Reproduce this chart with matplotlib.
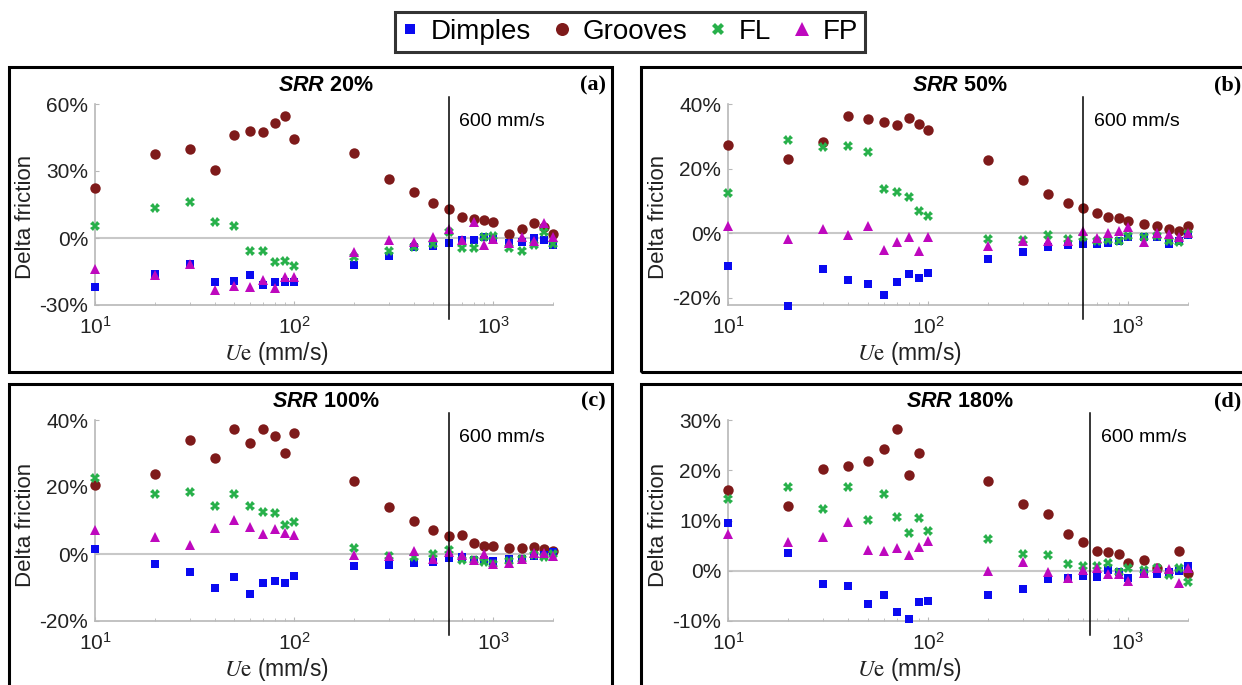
import matplotlib
matplotlib.use("Agg")
import matplotlib.pyplot as plt
import numpy as np
from matplotlib.ticker import FuncFormatter, LogLocator, NullFormatter
from matplotlib.lines import Line2D
from matplotlib.patches import Rectangle

plt.rcParams['font.family'] = ['Liberation Sans', 'DejaVu Sans']
plt.rcParams['mathtext.fontset'] = 'custom'
plt.rcParams['mathtext.rm'] = 'Liberation Sans'
plt.rcParams['mathtext.it'] = 'Liberation Sans:italic:bold'
plt.rcParams['mathtext.bf'] = 'Liberation Sans:bold'

# ---------------- data ----------------
speed = [10, 20, 30, 40, 50, 60, 70, 80, 90, 100, 200, 300, 400, 500, 600,
         700, 800, 900, 1000, 1200, 1400, 1600, 1800, 2000]

series_names = ["Dimples", "Grooves", "FL", "FP"]
panel_titles = ["20%", "50%", "100%", "180%"]
panel_letters = ["(a)", "(b)", "(c)", "(d)"]

# SRR 20%
dimples_20 = [-22.0, -16.2, -11.6, -19.5, -19.3, -16.7, -21.1, -19.6, -19.8, -19.9, -12.2, -7.9,
              -4.2, -3.4, -2.2, -0.9, -0.9, 0.4, -0.4, -2.1, -1.6, -0.1, -0.8, -3.1]
grooves_20 = [22.2, 37.4, 40.0, 30.5, 46.1, 47.8, 47.3, 51.3, 54.8, 44.2, 38.1, 26.3,
              20.7, 15.5, 12.8, 9.4, 8.6, 8.0, 7.0, 1.9, 3.9, 6.7, 5.0, 1.8]
fl_20 = [5.4, 13.5, 15.9, 7.0, 5.4, -5.7, -5.8, -10.6, -10.4, -12.5, -8.6, -5.7,
         -3.9, -2.8, 2.8, -4.3, -4.6, 0.6, 1.0, -4.3, -5.7, -3.0, 2.5, -2.8]
fp_20 = [-14.1, -16.5, -11.8, -23.1, -21.3, -21.9, -18.8, -22.5, -17.3, -17.6, -6.4, -1.0,
         -1.8, 0.3, 4.0, -0.9, 7.0, -3.1, -0.4, -2.1, 0.6, -1.2, 6.8, 0.3]

# SRR 50%
dimples_50 = [-10.1, -22.5, -11.0, -14.4, -15.9, -19.1, -15.3, -12.8, -14.0, -12.4, -8.1, -5.8,
              -4.4, -3.8, -3.4, -3.3, -3.2, -2.4, -1.1, -1.3, -1.3, -3.4, -2.4, -0.5]
grooves_50 = [27.2, 22.8, 28.2, 36.3, 35.5, 34.5, 33.5, 35.6, 33.7, 31.9, 22.7, 16.4,
              12.2, 9.4, 7.9, 6.2, 4.9, 4.6, 3.6, 2.9, 2.1, 1.2, 0.5, 2.1]
fl_50 = [12.5, 28.8, 26.7, 27.1, 25.2, 13.7, 12.7, 11.2, 6.8, 5.2, -1.9, -2.3,
         -0.5, -1.9, -1.3, -2.4, -2.2, -2.4, -0.8, -1.3, -0.8, -2.4, -2.9, -0.3]
fp_50 = [2.1, -1.9, 1.2, -0.6, 2.1, -5.1, -2.7, -1.1, -5.5, -1.3, -3.9, -2.4,
         -2.4, -2.6, 0.7, -1.6, 0.0, 0.7, 1.8, -2.7, 0.0, -0.3, -1.1, -0.1]

# SRR 100%
dimples_100 = [1.6, -3.1, -5.3, -10.0, -6.9, -12.0, -8.6, -8.1, -8.6, -6.7, -3.7, -3.2,
               -2.7, -2.4, -1.2, -0.9, -1.7, -1.9, -2.2, -1.6, -1.4, -0.7, -0.4, 0.6]
grooves_100 = [20.5, 23.8, 34.1, 28.7, 37.2, 33.1, 37.4, 35.3, 30.2, 36.1, 21.8, 14.1,
               9.8, 7.3, 5.4, 5.7, 3.3, 2.4, 2.5, 1.8, 1.7, 2.1, 1.6, 0.8]
fl_100 = [22.6, 17.8, 18.4, 14.4, 17.8, 14.4, 12.6, 12.2, 8.8, 9.6, 1.8, -0.7,
          -0.9, -0.1, 1.1, -1.9, -1.9, -2.4, -2.9, -2.2, -1.4, -0.4, -0.9, 0.1]
fp_100 = [7.1, 5.0, 2.8, 7.9, 10.1, 8.1, 5.9, 7.6, 6.4, 5.6, -0.4, -0.7,
          0.9, -1.6, 0.6, -0.4, -1.9, 0.1, -2.9, -2.6, -1.4, 0.4, 0.4, -0.7]

# SRR 180%
dimples_180 = [9.5, 3.5, -2.7, -3.0, -6.6, -4.9, -8.3, -9.7, -6.2, -6.0, -4.8, -3.6,
               -1.7, -1.4, -1.1, -1.3, 0.1, -0.2, -1.4, -0.5, -0.7, -0.2, -0.1, 0.9]
grooves_180 = [16.0, 12.8, 20.3, 20.9, 21.9, 24.3, 28.3, 19.1, 23.4, np.nan, 17.9, 13.3,
               11.3, 7.3, 5.8, 3.9, 3.8, 3.3, 1.5, 2.1, 0.6, np.nan, 4.0, -0.5]
fl_180 = [14.2, 16.6, 12.3, 16.6, 10.1, 15.2, 10.7, 7.6, 10.5, 8.0, 6.3, 3.4,
          3.1, 1.3, 0.9, 1.0, 1.6, -0.3, 0.5, 0.1, 0.5, -0.9, 0.5, -2.2]
fp_180 = [7.4, 5.8, 6.8, 9.7, 4.2, 4.0, 4.5, 3.1, 4.8, 6.0, 0.0, 1.7,
          -0.3, -1.4, 0.1, 0.6, -0.7, -0.7, -2.1, -0.5, 0.5, 0.3, -2.5, 0.5]

panel_data = [
    [dimples_20, grooves_20, fl_20, fp_20],
    [dimples_50, grooves_50, fl_50, fp_50],
    [dimples_100, grooves_100, fl_100, fp_100],
    [dimples_180, grooves_180, fl_180, fp_180],
]
panel_ylims = [(-30, 60), (-22.3, 40), (-20, 40), (-10, 30)]
panel_yticks = [[-30, 0, 30, 60], [-20, 0, 20, 40], [-20, 0, 20, 40], [-10, 0, 10, 20, 30]]
ref_line = [600, 600, 600, 650]

# ---------------- style ----------------
colors = {"Dimples": "#0A0AF0", "Grooves": "#7E1A1A", "FL": "#27B04A", "FP": "#BE08BE"}
markers = {"Dimples": "s", "Grooves": "o", "FL": "X", "FP": "^"}
msizes = {"Dimples": 5.4, "Grooves": 7.5, "FL": 7.0, "FP": 7.8}
draw_order = ["Grooves", "Dimples", "FL", "FP"]

W, H = 1242, 685
fig = plt.figure(figsize=(W / 100, H / 100), dpi=100)

def fx(px):
    return px / W

def fy(py):
    return 1 - py / H

# axes pixel boxes: left, top, right, bottom
ax_boxes = [(95, 104, 553, 305), (728, 104, 1188, 305),
            (95, 420, 553, 621), (728, 420, 1188, 621)]
panel_boxes = [(9, 67, 612, 372), (641, 67, 1250, 372),
               (9, 384, 612, 695), (641, 384, 1250, 695)]
ylabel_y = [0.44, 0.44, 0.48, 0.48]

grey = "#B8B8B8"

for i in range(4):
    l, t, r, b = ax_boxes[i]
    ax = fig.add_axes([fx(l), fy(b), fx(r) - fx(l), fy(t) - fy(b)])
    ax.set_xscale("log")
    ax.set_xlim(10, 2000)
    ax.set_ylim(*panel_ylims[i])
    ax.set_yticks(panel_yticks[i])
    ax.yaxis.set_major_formatter(FuncFormatter(lambda v, p: f"{v:.0f}%"))
    ax.xaxis.set_minor_locator(LogLocator(base=10, subs=np.arange(2, 10)))
    ax.xaxis.set_minor_formatter(NullFormatter())
    for s in ["top", "right"]:
        ax.spines[s].set_visible(False)
    for s in ["left", "bottom"]:
        ax.spines[s].set_color(grey)
        ax.spines[s].set_linewidth(1.2)
    ax.tick_params(axis="both", which="both", direction="in", color=grey,
                   labelsize=15, labelcolor="#222222")
    ax.tick_params(axis="both", which="major", length=3)
    ax.tick_params(axis="both", which="minor", length=2.5)
    ax.tick_params(axis="x", which="major", pad=8)
    ax.tick_params(axis="y", which="major", pad=5)
    ax.axhline(0, color="#C8C8C8", lw=1.5, zorder=1)

    for name in draw_order:
        vals = panel_data[i][series_names.index(name)]
        ax.plot(speed, vals, linestyle="none", marker=markers[name],
                markersize=msizes[name], color=colors[name],
                markeredgewidth=0, zorder=3, clip_on=False)

    ax.axvline(ref_line[i], ymin=-0.07, ymax=1.035, color="black", lw=1.1,
               clip_on=False, zorder=4)
    ax.text(ref_line[i] * 1.13, 0.915, "600 mm/s", transform=ax.get_xaxis_transform(),
            fontsize=14, ha="left", va="center", color="black")

    ax.set_ylabel("Delta friction", fontsize=16, color="#222222")
    ax.yaxis.set_label_coords(-0.129, ylabel_y[i])
    ax.set_xlabel(r"$\mathit{U}\mathrm{e}$ (mm/s)", fontsize=16.5, color="#222222",
                  math_fontfamily="stix")
    ax.xaxis.set_label_coords(0.395, -0.175)

    ax.text(0.504, 1.09, r"$\mathit{SRR}$ " + panel_titles[i], transform=ax.transAxes,
            fontsize=15.5, fontweight="bold", ha="center", va="center")
    ax.text(1.116, 1.09, panel_letters[i], transform=ax.transAxes,
            fontsize=16, fontweight="bold", family="Liberation Serif",
            ha="right", va="center")

    pl, pt, pr, pb = panel_boxes[i]
    fig.patches.append(Rectangle((fx(pl), fy(pb)), fx(pr) - fx(pl), fy(pt) - fy(pb),
                                 transform=fig.transFigure, fill=False,
                                 edgecolor="black", lw=2.2, zorder=0))

handles = [Line2D([], [], linestyle="none", marker=markers[n], color=colors[n],
                  markersize=msizes[n] * 1.25, markeredgewidth=0) for n in series_names]
leg = fig.legend(handles, series_names, loc="center", bbox_to_anchor=(fx(630), fy(32)),
                 ncol=4, fontsize=20, frameon=True, fancybox=False,
                 handlelength=0.6, handletextpad=0.45, columnspacing=0.8,
                 borderpad=0.25, borderaxespad=0)
leg.get_frame().set_edgecolor("black")
leg.get_frame().set_linewidth(2.2)

fig.savefig("out.png", dpi=100)
